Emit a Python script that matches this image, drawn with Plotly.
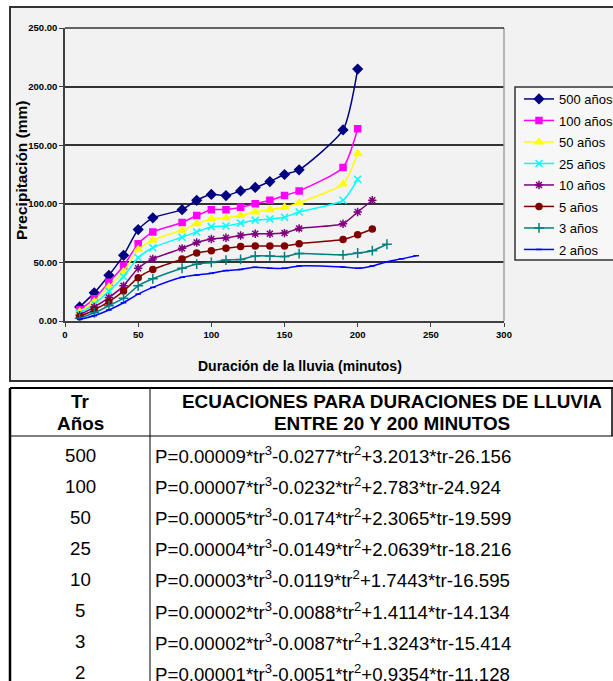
import plotly.graph_objects as go

# ---------------- data ----------------
dur_500 = [10, 20, 30, 40, 50, 60, 80, 90, 100, 110, 120, 130, 140, 150, 160, 190, 200]
p_500 = [12, 24, 39, 56, 78, 88, 95, 103, 108, 107, 111, 114, 119, 125, 129, 163, 215]

dur_100 = [10, 20, 30, 40, 50, 60, 80, 90, 100, 110, 120, 130, 140, 150, 160, 190, 200]
p_100 = [9.5, 19, 33, 47, 66, 76, 84, 90, 95, 95, 97, 100, 103, 107, 111, 131, 164]

dur_50 = [10, 20, 30, 40, 50, 60, 80, 90, 100, 110, 120, 130, 140, 150, 160, 190, 200]
p_50 = [8, 16.5, 29, 42, 61, 69, 77.5, 83, 87, 88, 90, 93, 95, 97, 101, 117, 143]

dur_25 = [10, 20, 30, 40, 50, 60, 80, 90, 100, 110, 120, 130, 140, 150, 160, 190, 200]
p_25 = [6.5, 14.5, 25.5, 38, 54, 62.5, 71.5, 76, 80.5, 81, 83.5, 86, 87, 88.5, 93, 103, 121]

dur_10 = [10, 20, 30, 40, 50, 60, 80, 90, 100, 110, 120, 130, 140, 150, 160, 190, 200, 210]
p_10 = [5, 12, 20, 30, 45, 53, 62, 67, 70, 71, 73, 74.5, 74.5, 75, 79, 83, 93, 103]

dur_5 = [10, 20, 30, 40, 50, 60, 80, 90, 100, 110, 120, 130, 140, 150, 160, 190, 200, 210]
p_5 = [3.7, 9.5, 16.5, 25.5, 37, 44, 53, 58, 60, 62, 63.5, 64, 64, 64, 66, 69.5, 73.5, 78.5]

dur_3 = [10, 20, 30, 40, 50, 60, 80, 90, 100, 110, 120, 130, 140, 150, 160, 190, 200, 210, 220]
p_3 = [2.3, 7, 13, 19.5, 30, 36, 45, 48.5, 50, 52, 52.5, 55.5, 55.5, 55, 57.5, 56.5, 58, 60, 65.5]

dur_2 = [10, 20, 30, 40, 50, 60, 80, 90, 100, 110, 120, 130, 140, 150, 160, 190, 200, 210, 220, 230, 240]
p_2 = [1.4, 4.5, 9.4, 15.6, 23, 28.7, 37.3, 39.2, 40.7, 43, 44, 45.8, 45, 45, 47, 46, 45, 47, 50.5, 53, 55.7]

series_names = ["500 años", "100 años", "50 años", "25 años", "10 años", "5 años", "3 años", "2 años"]
x_ticks = [0, 50, 100, 150, 200, 250, 300]
y_ticks = [0, 50, 100, 150, 200, 250]

table_tr = ["500", "100", "50", "25", "10", "5", "3", "2"]
table_eq = [
    "P=0.00009*tr<sup>3</sup>-0.0277*tr<sup>2</sup>+3.2013*tr-26.156",
    "P=0.00007*tr<sup>3</sup>-0.0232*tr<sup>2</sup>+2.783*tr-24.924",
    "P=0.00005*tr<sup>3</sup>-0.0174*tr<sup>2</sup>+2.3065*tr-19.599",
    "P=0.00004*tr<sup>3</sup>-0.0149*tr<sup>2</sup>+2.0639*tr-18.216",
    "P=0.00003*tr<sup>3</sup>-0.0119*tr<sup>2</sup>+1.7443*tr-16.595",
    "P=0.00002*tr<sup>3</sup>-0.0088*tr<sup>2</sup>+1.4114*tr-14.134",
    "P=0.00002*tr<sup>3</sup>-0.0087*tr<sup>2</sup>+1.3243*tr-15.414",
    "P=0.00001*tr<sup>3</sup>-0.0051*tr<sup>2</sup>+0.9354*tr-11.128",
]
header_tr = ["Tr", "Años"]
header_eq = ["ECUACIONES PARA DURACIONES DE LLUVIA", "ENTRE 20 Y 200 MINUTOS"]

# ---------------- styling ----------------
W, H = 613, 681
FONT = "Arial, Liberation Sans, sans-serif"


def px(x):
    return x / W


def py(y):
    return 1 - y / H


styles = [
    dict(color="#000080", symbol="diamond", size=7),
    dict(color="#ff00ff", symbol="square", size=6),
    dict(color="#ffff00", symbol="triangle-up", size=7),
    dict(color="#00ffff", symbol="x-thin-open", size=7),
    dict(color="#800080", symbol="asterisk-open", size=7),
    dict(color="#800000", symbol="circle", size=6),
    dict(color="#008080", symbol="cross-thin-open", size=7),
    dict(color="#0000ff", symbol="line-ew-open", size=4),
]
xs = [dur_500, dur_100, dur_50, dur_25, dur_10, dur_5, dur_3, dur_2]
ys = [p_500, p_100, p_50, p_25, p_10, p_5, p_3, p_2]

fig = go.Figure()
for name, x, y, st in zip(series_names, xs, ys, styles):
    fig.add_trace(go.Scatter(
        x=x, y=y, name=name, mode="lines+markers", legendgroup=name,
        line=dict(color=st["color"], width=1.5, shape="spline", smoothing=0.6),
        marker=dict(symbol=st["symbol"], size=st["size"], color=st["color"],
                    line=dict(color=st["color"], width=1.5)),
    ))

shapes = []
# chart frame
shapes.append(dict(type="rect", xref="paper", yref="paper",
                   x0=px(10), x1=px(680), y0=py(381), y1=py(7),
                   fillcolor="#f2f2f2", line=dict(color="#333333", width=2), layer="below"))
# legend box
shapes.append(dict(type="rect", xref="paper", yref="paper",
                   x0=px(515), x1=px(680), y0=py(260), y1=py(87),
                   fillcolor="#f7f7f7", line=dict(color="#333333", width=1.5), layer="below"))
# plot area right border and top border
shapes.append(dict(type="line", xref="paper", yref="paper",
                   x0=px(504), x1=px(504), y0=py(321), y1=py(28),
                   line=dict(color="#a0a0a0", width=1.5)))
shapes.append(dict(type="line", xref="paper", yref="paper",
                   x0=px(65), x1=px(504), y0=py(28), y1=py(28),
                   line=dict(color="#333333", width=1.5)))
# table lines
shapes.append(dict(type="line", xref="paper", yref="paper",
                   x0=px(10), x1=px(613), y0=py(388), y1=py(388),
                   line=dict(color="#000000", width=2)))
shapes.append(dict(type="line", xref="paper", yref="paper",
                   x0=px(10), x1=px(613), y0=py(436), y1=py(436),
                   line=dict(color="#000000", width=1)))
shapes.append(dict(type="line", xref="paper", yref="paper",
                   x0=px(10), x1=px(10), y0=py(388), y1=py(700),
                   line=dict(color="#000000", width=2.5)))
shapes.append(dict(type="line", xref="paper", yref="paper",
                   x0=px(150), x1=px(150), y0=py(388), y1=py(700),
                   line=dict(color="#000000", width=1)))
shapes.append(dict(type="line", xref="paper", yref="paper",
                   x0=px(612), x1=px(612), y0=py(388), y1=py(436),
                   line=dict(color="#000000", width=1.5)))

annotations = []
# axis titles
annotations.append(dict(text="<b>Duración de la lluvia (minutos)</b>", xref="paper", yref="paper",
                        x=px(300), y=py(366), showarrow=False, xanchor="center", yanchor="middle",
                        font=dict(family=FONT, size=14, color="#000")))
annotations.append(dict(text="<b>Precipitación (mm)</b>", xref="paper", yref="paper",
                        x=px(22), y=py(170), showarrow=False, textangle=-90,
                        xanchor="center", yanchor="middle",
                        font=dict(family=FONT, size=15.5, color="#000")))
# table header
for k, (t1, t2) in enumerate(zip(header_tr, header_eq)):
    yy = 401 + k * 22.5
    annotations.append(dict(text="<b>" + t1 + "</b>", xref="paper", yref="paper",
                            x=px(80), y=py(yy), showarrow=False, xanchor="center", yanchor="middle",
                            font=dict(family=FONT, size=18.9, color="#000")))
    annotations.append(dict(text="<b>" + t2 + "</b>", xref="paper", yref="paper",
                            x=px(392), y=py(yy), showarrow=False, xanchor="center", yanchor="middle",
                            font=dict(family=FONT, size=18.9, color="#000")))
row_y0, row_dy = 455, 31.1
for i, (tr, eq) in enumerate(zip(table_tr, table_eq)):
    yy = row_y0 + i * row_dy
    annotations.append(dict(text=tr, xref="paper", yref="paper", x=px(80), y=py(yy),
                            showarrow=False, xanchor="center", yanchor="middle",
                            font=dict(family=FONT, size=18.7, color="#000")))
    annotations.append(dict(text=eq, xref="paper", yref="paper", x=px(153), y=py(yy),
                            showarrow=False, xanchor="left", yanchor="middle",
                            font=dict(family=FONT, size=18.7, color="#000")))

fig.update_layout(
    width=W, height=H,
    margin=dict(l=0, r=0, t=0, b=0, autoexpand=False),
    paper_bgcolor="#ffffff",
    plot_bgcolor="#c0c0c0",
    font=dict(family=FONT, color="#000"),
    shapes=shapes,
    annotations=annotations,
    showlegend=True,
    legend=dict(x=px(519), y=py(84), xanchor="left", yanchor="top",
                bgcolor="rgba(0,0,0,0)", borderwidth=0,
                font=dict(family=FONT, size=13, color="#000"),
                tracegroupgap=1.6, itemwidth=30),
    xaxis=dict(domain=[px(65), px(504)], range=[0, 300], tickvals=x_ticks,
               ticktext=["<b>%d</b>" % v for v in x_ticks],
               showgrid=False, zeroline=False, showline=True, linecolor="#404040", linewidth=1.5,
               ticks="outside", ticklen=4, tickcolor="#404040",
               tickfont=dict(family=FONT, size=9.5, color="#000")),
    yaxis=dict(domain=[py(321), py(28)], range=[0, 250], tickvals=y_ticks,
               ticktext=["<b>%.2f</b>" % v for v in y_ticks],
               showgrid=True, gridcolor="#333333", gridwidth=1.5, zeroline=False,
               showline=True, linecolor="#404040", linewidth=1.5,
               ticks="outside", ticklen=4, tickcolor="#404040",
               tickfont=dict(family=FONT, size=9.5, color="#000")),
)

fig.write_html("out.html",
               config={"displayModeBar": False},
               post_script="document.body.style.margin='0';document.body.style.overflow='hidden';")
